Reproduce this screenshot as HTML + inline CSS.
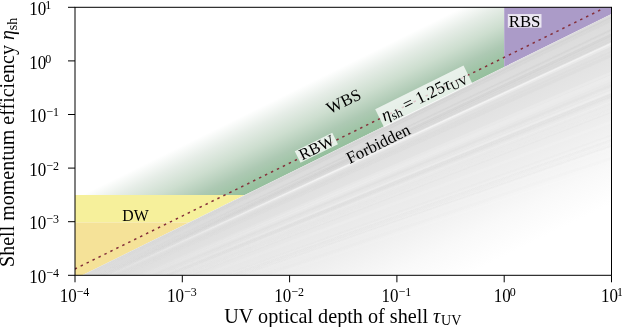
<!DOCTYPE html>
<html><head><meta charset="utf-8">
<style>
html,body{margin:0;padding:0;background:#fff;}
body{width:622px;height:327px;overflow:hidden;}
svg{display:block;will-change:transform;}
text,tspan{font-family:"Liberation Serif",serif;fill:#000;}
</style></head>
<body>
<svg width="622" height="327" viewBox="0 0 622 327">
<defs>
<clipPath id="fb"><polygon points="80.05,276.3 612.5,13.56 612.5,276.3"/></clipPath>
<clipPath id="ax"><rect x="75" y="7.3" width="536.5" height="268.0"/></clipPath>
<linearGradient id="gG" gradientUnits="userSpaceOnUse" x1="300.00" y1="167.77" x2="268.14" y2="103.20">
<stop offset="0" stop-color="#95bf9d"/>
<stop offset="0.08" stop-color="#9ac2a1"/>
<stop offset="0.28" stop-color="#adc9b3"/>
<stop offset="0.53" stop-color="#cddecf"/>
<stop offset="0.78" stop-color="#e6ede7"/>
<stop offset="1" stop-color="#ffffff"/>
</linearGradient>
<linearGradient id="gF" gradientUnits="userSpaceOnUse" x1="300.00" y1="167.77" x2="375.23" y2="320.22">
<stop offset="0" stop-color="#dbdbdb"/>
<stop offset="0.28" stop-color="#e5e5e5"/>
<stop offset="0.55" stop-color="#eeeeee"/>
<stop offset="0.8" stop-color="#f9f9f9"/>
<stop offset="1" stop-color="#ffffff"/>
</linearGradient>
<linearGradient id="sw" gradientUnits="userSpaceOnUse" x1="90" y1="0" x2="330" y2="0"><stop offset="0" stop-color="#fff" stop-opacity="0"/><stop offset="1" stop-color="#fff" stop-opacity="1"/></linearGradient>
<linearGradient id="sg" gradientUnits="userSpaceOnUse" x1="90" y1="0" x2="330" y2="0"><stop offset="0" stop-color="#b4b4b4" stop-opacity="0"/><stop offset="1" stop-color="#b4b4b4" stop-opacity="1"/></linearGradient>
<filter id="bl" x="-5%" y="-5%" width="110%" height="110%"><feGaussianBlur stdDeviation="0.5"/></filter>
</defs>
<g clip-path="url(#ax)">
<polygon points="75,7.3 504.2,7.3 504.2,67.00 244.61,195.1 75,195.1" fill="url(#gG)"/>
<polygon points="504.2,6.3 612.5,6.3 612.5,13.56 504.2,67.00" fill="#ab9bc8"/>
<polygon points="74,195.1 244.61,195.1 188.88,222.6 74,222.6" fill="#f6f09b"/>
<polygon points="74,222.6 188.88,222.6 80.05,276.3 74,276.3" fill="#f5e298"/>
<polygon points="80.05,276.3 612.5,13.56 612.5,276.3" fill="url(#gF)"/>
<g clip-path="url(#fb)"><g filter="url(#bl)">
<line x1="70.00" y1="289.67" x2="616.50" y2="32.42" stroke="url(#sg)" stroke-opacity="0.085" stroke-width="2.65"/>
<line x1="70.00" y1="313.50" x2="616.50" y2="91.46" stroke="url(#sw)" stroke-opacity="0.076" stroke-width="3.21"/>
<line x1="70.00" y1="290.68" x2="616.50" y2="34.92" stroke="url(#sg)" stroke-opacity="0.134" stroke-width="2.33"/>
<line x1="70.00" y1="330.49" x2="616.50" y2="133.53" stroke="url(#sg)" stroke-opacity="0.048" stroke-width="1.56"/>
<line x1="70.00" y1="314.19" x2="616.50" y2="93.15" stroke="url(#sg)" stroke-opacity="0.065" stroke-width="2.98"/>
<line x1="70.00" y1="316.97" x2="616.50" y2="100.05" stroke="url(#sw)" stroke-opacity="0.168" stroke-width="2.62"/>
<line x1="70.00" y1="292.77" x2="616.50" y2="40.10" stroke="url(#sw)" stroke-opacity="0.278" stroke-width="2.33"/>
<line x1="70.00" y1="320.70" x2="616.50" y2="109.29" stroke="url(#sg)" stroke-opacity="0.065" stroke-width="3.41"/>
<line x1="70.00" y1="297.98" x2="616.50" y2="53.01" stroke="url(#sg)" stroke-opacity="0.081" stroke-width="3.45"/>
<line x1="70.00" y1="334.19" x2="616.50" y2="142.71" stroke="url(#sw)" stroke-opacity="0.054" stroke-width="1.72"/>
<line x1="70.00" y1="342.04" x2="616.50" y2="162.15" stroke="url(#sw)" stroke-opacity="0.069" stroke-width="1.92"/>
<line x1="70.00" y1="305.09" x2="616.50" y2="70.62" stroke="url(#sw)" stroke-opacity="0.144" stroke-width="2.60"/>
<line x1="70.00" y1="310.46" x2="616.50" y2="83.92" stroke="url(#sg)" stroke-opacity="0.079" stroke-width="3.43"/>
<line x1="70.00" y1="332.22" x2="616.50" y2="137.82" stroke="url(#sg)" stroke-opacity="0.046" stroke-width="1.59"/>
<line x1="70.00" y1="332.59" x2="616.50" y2="138.74" stroke="url(#sg)" stroke-opacity="0.054" stroke-width="2.57"/>
<line x1="70.00" y1="320.30" x2="616.50" y2="108.30" stroke="url(#sw)" stroke-opacity="0.165" stroke-width="2.58"/>
<line x1="70.00" y1="291.94" x2="616.50" y2="38.04" stroke="url(#sg)" stroke-opacity="0.121" stroke-width="3.58"/>
<line x1="70.00" y1="284.03" x2="616.50" y2="18.44" stroke="url(#sg)" stroke-opacity="0.095" stroke-width="1.56"/>
<line x1="70.00" y1="292.39" x2="616.50" y2="39.16" stroke="url(#sg)" stroke-opacity="0.121" stroke-width="1.31"/>
<line x1="70.00" y1="312.67" x2="616.50" y2="89.40" stroke="url(#sw)" stroke-opacity="0.178" stroke-width="1.99"/>
<line x1="70.00" y1="334.38" x2="616.50" y2="143.16" stroke="url(#sg)" stroke-opacity="0.038" stroke-width="3.60"/>
<line x1="70.00" y1="293.21" x2="616.50" y2="41.19" stroke="url(#sw)" stroke-opacity="0.223" stroke-width="1.28"/>
<line x1="70.00" y1="287.89" x2="616.50" y2="28.00" stroke="url(#sg)" stroke-opacity="0.107" stroke-width="1.57"/>
<line x1="70.00" y1="282.92" x2="616.50" y2="15.70" stroke="url(#sg)" stroke-opacity="0.088" stroke-width="3.50"/>
<line x1="70.00" y1="335.78" x2="616.50" y2="146.63" stroke="url(#sw)" stroke-opacity="0.077" stroke-width="2.45"/>
<line x1="70.00" y1="314.87" x2="616.50" y2="94.84" stroke="url(#sg)" stroke-opacity="0.066" stroke-width="2.69"/>
<line x1="70.00" y1="339.75" x2="616.50" y2="156.47" stroke="url(#sg)" stroke-opacity="0.029" stroke-width="2.93"/>
<line x1="70.00" y1="289.66" x2="616.50" y2="32.39" stroke="url(#sg)" stroke-opacity="0.134" stroke-width="2.45"/>
<line x1="70.00" y1="307.92" x2="616.50" y2="77.62" stroke="url(#sw)" stroke-opacity="0.147" stroke-width="2.59"/>
<line x1="70.00" y1="282.55" x2="616.50" y2="14.78" stroke="url(#sg)" stroke-opacity="0.116" stroke-width="1.34"/>
<line x1="70.00" y1="313.62" x2="616.50" y2="91.76" stroke="url(#sg)" stroke-opacity="0.074" stroke-width="2.05"/>
<line x1="70.00" y1="319.76" x2="616.50" y2="106.95" stroke="url(#sg)" stroke-opacity="0.033" stroke-width="1.35"/>
<line x1="70.00" y1="317.33" x2="616.50" y2="100.94" stroke="url(#sg)" stroke-opacity="0.047" stroke-width="2.30"/>
<line x1="70.00" y1="311.07" x2="616.50" y2="85.43" stroke="url(#sw)" stroke-opacity="0.131" stroke-width="1.95"/>
<line x1="70.00" y1="296.48" x2="616.50" y2="49.28" stroke="url(#sg)" stroke-opacity="0.072" stroke-width="2.11"/>
<line x1="70.00" y1="325.06" x2="616.50" y2="120.08" stroke="url(#sw)" stroke-opacity="0.118" stroke-width="2.96"/>
<line x1="70.00" y1="293.23" x2="616.50" y2="41.23" stroke="url(#sw)" stroke-opacity="0.264" stroke-width="1.77"/>
<line x1="70.00" y1="287.47" x2="616.50" y2="26.98" stroke="url(#sg)" stroke-opacity="0.115" stroke-width="1.44"/>
<line x1="70.00" y1="293.86" x2="616.50" y2="42.80" stroke="url(#sw)" stroke-opacity="0.267" stroke-width="2.25"/>
<line x1="70.00" y1="332.14" x2="616.50" y2="137.63" stroke="url(#sw)" stroke-opacity="0.076" stroke-width="2.76"/>
<line x1="70.00" y1="334.73" x2="616.50" y2="144.03" stroke="url(#sg)" stroke-opacity="0.028" stroke-width="1.49"/>
<line x1="70.00" y1="306.61" x2="616.50" y2="74.39" stroke="url(#sw)" stroke-opacity="0.214" stroke-width="3.21"/>
</g></g>
<line x1="74" y1="269.39" x2="601.2" y2="9.57" stroke="#85303a" stroke-width="1.5" stroke-dasharray="2.5 4.13" stroke-dashoffset="-0.75"/>
</g>
<rect x="75" y="7.3" width="536.5" height="268.0" fill="none" stroke="#000" stroke-width="1"/>
<g stroke="#000" stroke-width="1">
<line x1="75.00" y1="275.3" x2="75.00" y2="282.3"/>
<line x1="182.30" y1="275.3" x2="182.30" y2="282.3"/>
<line x1="289.60" y1="275.3" x2="289.60" y2="282.3"/>
<line x1="396.90" y1="275.3" x2="396.90" y2="282.3"/>
<line x1="504.20" y1="275.3" x2="504.20" y2="282.3"/>
<line x1="611.50" y1="275.3" x2="611.50" y2="282.3"/>
<line x1="68" y1="7.30" x2="75" y2="7.30"/>
<line x1="68" y1="60.90" x2="75" y2="60.90"/>
<line x1="68" y1="114.50" x2="75" y2="114.50"/>
<line x1="68" y1="168.10" x2="75" y2="168.10"/>
<line x1="68" y1="221.70" x2="75" y2="221.70"/>
<line x1="68" y1="275.30" x2="75" y2="275.30"/>
</g>
<g font-size="17">
<text transform="translate(74.50,302.3) scale(1,1.07)" text-anchor="middle">10<tspan font-size="12" dy="-5.6">−4</tspan></text>
<text transform="translate(181.80,302.3) scale(1,1.07)" text-anchor="middle">10<tspan font-size="12" dy="-5.6">−3</tspan></text>
<text transform="translate(289.10,302.3) scale(1,1.07)" text-anchor="middle">10<tspan font-size="12" dy="-5.6">−2</tspan></text>
<text transform="translate(396.40,302.3) scale(1,1.07)" text-anchor="middle">10<tspan font-size="12" dy="-5.6">−1</tspan></text>
<text transform="translate(504.70,302.3) scale(1,1.07)" text-anchor="middle">10<tspan font-size="12" dy="-5.6" dx="-1">0</tspan></text>
<text transform="translate(612.00,302.3) scale(1,1.07)" text-anchor="middle">10<tspan font-size="12" dy="-5.6" dx="-1">1</tspan></text>
<text transform="translate(29.3,14.90) scale(1,1.07)">10<tspan font-size="12" dy="-5.6" dx="-1">1</tspan></text>
<text transform="translate(29.3,68.50) scale(1,1.07)">10<tspan font-size="12" dy="-5.6" dx="-1">0</tspan></text>
<text transform="translate(29.3,122.10) scale(1,1.07)">10<tspan font-size="12" dy="-5.6">−1</tspan></text>
<text transform="translate(29.3,175.70) scale(1,1.07)">10<tspan font-size="12" dy="-5.6">−2</tspan></text>
<text transform="translate(29.3,229.30) scale(1,1.07)">10<tspan font-size="12" dy="-5.6">−3</tspan></text>
<text transform="translate(29.3,282.90) scale(1,1.07)">10<tspan font-size="12" dy="-5.6">−4</tspan></text>
</g>
<text x="342.8" y="322.6" font-size="20.2" text-anchor="middle">UV optical depth of shell <tspan font-style="italic">τ</tspan><tspan font-size="14" dy="2.8" dx="0.8">UV</tspan></text>
<text transform="translate(14.2,142.3) rotate(-90)" font-size="20" text-anchor="middle">Shell momentum efficiency <tspan font-style="italic">η</tspan><tspan font-size="14" dy="3">sh</tspan></text>
<text x="135.45" y="220.7" font-size="17.2" text-anchor="middle" textLength="26.4" lengthAdjust="spacingAndGlyphs">DW</text>
<rect x="507.8" y="14.05" width="33.7" height="13.6" fill="#fff" fill-opacity="0.75"/>
<text x="524.6" y="26.5" font-size="16.8" text-anchor="middle">RBS</text>
<g transform="translate(343.5,101.1) rotate(-26.26)"><text x="0" y="5.8" font-size="16.8" text-anchor="middle">WBS</text></g>
<g transform="translate(316.3,148.2) rotate(-26.26)"><rect x="-20.6" y="-6.9" width="41.8" height="12.9" fill="#fff" fill-opacity="0.75"/><text x="0.55" y="4.9" font-size="16.3" text-anchor="middle">RBW</text></g>
<g transform="translate(378.1,143.6) rotate(-26.26)"><text x="0" y="5.8" font-size="16.8" text-anchor="middle">Forbidden</text></g>
<g transform="translate(422.75,98) rotate(-26.26)"><rect x="-47.6" y="-11" width="98.5" height="20" fill="#fff" fill-opacity="0.74"/><text x="1.9" y="4.1" font-size="17.4" text-anchor="middle"><tspan font-style="italic">η</tspan><tspan font-size="12.5" dy="2.8">sh</tspan><tspan dy="-2.8"> = 1.25</tspan><tspan font-style="italic">τ</tspan><tspan font-size="12.5" dy="2.8">UV</tspan></text></g>
</svg>
</body></html>
